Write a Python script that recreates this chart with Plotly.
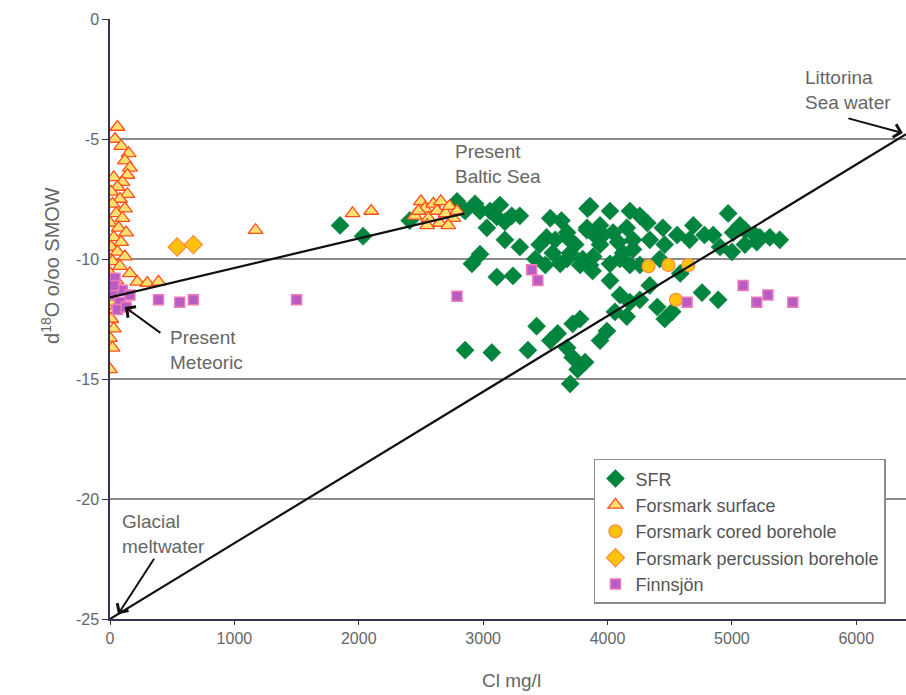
import plotly.graph_objects as go

# --- Data: Cl (mg/l) and d18O (o/oo SMOW) per sample group ---
sfr_cl = [1850, 2035, 2410, 2790, 2935, 2975, 3055, 3110, 3230, 3030, 3175, 3295, 2975, 2910,
          3110, 3240, 3420, 3540, 3630, 3510, 3675, 3840, 4020, 4180, 3835, 3915, 4045, 4155,
          3560, 3700, 3800, 3885, 4020, 4125, 4205, 3860, 4320, 4445, 4560, 4690, 4970, 4850,
          5010, 5105, 5225, 5305, 5385, 5200, 4905, 5000, 3675, 3835, 3965, 4085, 4205, 3675,
          3780, 4020, 4420, 4585, 4760, 4890, 4100, 4180, 4260, 4400, 4460, 4155, 3995, 3720,
          3780, 3940, 3675, 3720, 3820, 3700, 3360, 3430, 3070, 2855, 3540, 3455, 3580, 3940,
          4100, 4260, 4340, 4460, 3940, 4260, 3860, 3740, 4180, 3620, 3500, 4660, 4780, 5065,
          5185, 5105, 2855, 3135, 3175, 3295, 4340, 4520, 3600, 3880, 3760, 4060]
sfr_d18o = [-8.6, -9.05, -8.4, -7.6, -7.7, -8.0, -8.0, -8.25, -8.2, -8.7, -9.2, -9.5, -9.8, -10.2,
            -10.75, -10.7, -10.0, -8.3, -8.4, -9.1, -9.1, -7.9, -8.0, -8.0, -8.7, -9.1, -8.9, -8.7,
            -9.75, -9.75, -10.0, -9.9, -10.2, -9.75, -9.2, -7.8, -8.5, -8.7, -9.0, -8.6, -8.1, -9.0,
            -8.9, -8.8, -9.1, -9.1, -9.2, -9.3, -9.5, -9.7, -8.9, -8.8, -9.0, -9.3, -9.6, -10.0,
            -10.25, -10.9, -10.0, -10.6, -11.4, -11.7, -11.5, -11.8, -11.7, -12.0, -12.5, -12.4,
            -13.0, -12.7, -12.5, -13.4, -13.7, -14.1, -14.3, -15.2, -13.8, -12.8, -13.9, -13.8,
            -13.4, -9.4, -9.2, -9.4, -10.0, -10.25, -9.2, -9.4, -8.6, -8.2, -10.25, -9.4, -10.25,
            -10.2, -10.25, -9.2, -9.0, -8.6, -9.0, -9.4, -8.0, -7.75, -8.45, -8.2, -11.1, -12.2,
            -13.1, -10.5, -14.6, -12.2]

surf_cl = [60, 40, 90, 150, 120, 160, 140, 30, 100, 60, 10, 140, 80, 20, 120, 50, 100, 0, 70,
           130, 30, 90, 10, 60, 120, 20, 80, 0, 50, 20, 0, 40, 10, 30, 0, 20, 0,
           160, 220, 300, 390,
           1170, 1950, 2100,
           2450, 2500, 2530, 2560, 2600, 2630, 2660, 2700, 2730, 2760, 2790, 2550, 2650,
           2720, 2480]
surf_d18o = [-4.5, -5.0, -5.3, -5.6, -5.9, -6.2, -6.5, -6.6, -6.8, -7.0, -7.2, -7.3, -7.5, -7.7,
             -7.9, -8.1, -8.3, -8.5, -8.7, -8.9, -9.1, -9.3, -9.5, -9.7, -9.9, -10.1, -10.3,
             -10.6, -10.9, -11.3, -11.8, -12.1, -12.5, -12.9, -13.3, -13.7, -14.6,
             -10.6, -10.95, -11.0, -10.95,
             -8.8, -8.1, -8.0,
             -8.2, -7.6, -7.9, -8.3, -7.7, -8.0, -7.6, -8.1, -7.8, -8.3, -8.0, -8.6, -8.5,
             -8.6, -8.0]

cored_cl = [4330, 4490, 4650, 4550]
cored_d18o = [-10.3, -10.25, -10.25, -11.7]

perc_cl = [540, 670]
perc_d18o = [-9.5, -9.4]

finn_cl = [40, 100, 20, 80, 160, 60, 130, 30, 390, 560, 670, 1500, 2790, 3390, 3440, 4640,
           5090, 5200, 5290, 5490]
finn_d18o = [-10.8, -11.3, -11.5, -11.8, -11.5, -12.1, -12.0, -11.1, -11.7, -11.8, -11.7,
             -11.7, -11.55, -10.45, -10.9, -11.8, -11.1, -11.8, -11.5, -11.8]

# End members of the two mixing lines
mix_cl = [0, 6400]
mix_d18o = [-25.0, -4.8]
baltic_cl = [0, 2850]
baltic_d18o = [-11.6, -8.1]

grid_levels = [-5, -10, -15, -20]
x_ticks = [0, 1000, 2000, 3000, 4000, 5000, 6000]
y_ticks = [0, -5, -10, -15, -20, -25]
y_ticktext = ["0", "-5", "-10", "-15", "-20", "-25"]

FONT = "Liberation Sans, Arial, sans-serif"
TXT = "#666666"

fig = go.Figure()

fig.add_trace(go.Scatter(
    x=sfr_cl, y=sfr_d18o, mode="markers", name="SFR",
    marker=dict(symbol="diamond", size=14, color="#00853e",
                line=dict(color="#0a7a3a", width=0.5))))
fig.add_trace(go.Scatter(
    x=surf_cl, y=surf_d18o, mode="markers", name="Forsmark surface",
    marker=dict(symbol="triangle-up", size=13, color="#ffe070",
                line=dict(color="#ff4f1f", width=1.3))))
fig.add_trace(go.Scatter(
    x=cored_cl, y=cored_d18o, mode="markers", name="Forsmark cored borehole",
    marker=dict(symbol="circle", size=13, color="#ffc20e",
                line=dict(color="#ff8a3a", width=1.2))))
fig.add_trace(go.Scatter(
    x=perc_cl, y=perc_d18o, mode="markers", name="Forsmark percussion borehole",
    marker=dict(symbol="diamond", size=14, color="#ffc20e",
                line=dict(color="#ff8a3a", width=1.2))))
fig.add_trace(go.Scatter(
    x=finn_cl, y=finn_d18o, mode="markers", name="Finnsjön",
    marker=dict(symbol="square", size=10, color="#b85cc4",
                line=dict(color="#f07ab8", width=1.5))))

# Mixing lines drawn over the markers
fig.add_trace(go.Scatter(x=mix_cl, y=mix_d18o, mode="lines", showlegend=False,
                         line=dict(color="#111111", width=2.2), hoverinfo="skip"))
fig.add_trace(go.Scatter(x=baltic_cl, y=baltic_d18o, mode="lines", showlegend=False,
                         line=dict(color="#111111", width=2.2), hoverinfo="skip"))

shapes = [dict(type="line", xref="paper", x0=0, x1=1, yref="y", y0=g, y1=g,
               line=dict(color="#8c8c8c", width=2), layer="below") for g in grid_levels]

ann_font = dict(family=FONT, size=19, color=TXT)
annotations = [
    dict(x=5570, y=-1.9, text="Littorina<br>Sea water", showarrow=False,
         xanchor="left", yanchor="top", align="left", font=ann_font),
    dict(x=2760, y=-5.0, text="Present<br>Baltic Sea", showarrow=False,
         xanchor="left", yanchor="top", align="left", font=ann_font),
    dict(x=466, y=-12.75, text="Present<br>Meteoric", showarrow=False,
         xanchor="left", yanchor="top", align="left", font=ann_font),
    dict(x=80, y=-20.4, text="Glacial<br>meltwater", showarrow=False,
         xanchor="left", yanchor="top", align="left", font=ann_font),
    # arrows
    dict(x=6375, y=-4.75, ax=-56, ay=-15, text="", showarrow=True, arrowhead=4,
         arrowsize=1.3, arrowwidth=2, arrowcolor="#111111"),
    dict(x=120, y=-12.0, ax=37, ay=27, text="", showarrow=True, arrowhead=4,
         arrowsize=1.3, arrowwidth=2, arrowcolor="#111111"),
    dict(x=65, y=-24.8, ax=37, ay=-57, text="", showarrow=True, arrowhead=4,
         arrowsize=1.3, arrowwidth=2, arrowcolor="#111111"),
    # axis titles
    dict(xref="paper", yref="paper", x=-0.0754, y=0.59, xanchor="center", yanchor="middle",
         text="d<sup>18</sup>O o/oo SMOW", textangle=-90, showarrow=False,
         font=dict(family=FONT, size=20, color=TXT)),
    dict(xref="paper", yref="paper", x=0.505, y=-0.103, xanchor="center", yanchor="middle",
         text="Cl mg/l", showarrow=False, font=dict(family=FONT, size=19, color=TXT)),
]

fig.update_layout(
    width=906, height=695,
    margin=dict(l=110, r=0, t=19, b=76),
    paper_bgcolor="white", plot_bgcolor="white",
    font=dict(family=FONT, size=16, color=TXT),
    shapes=shapes, annotations=annotations,
    showlegend=True,
    legend=dict(x=0.608, y=0.267, xanchor="left", yanchor="top",
                bgcolor="white", bordercolor="#8c8c8c", borderwidth=1.5,
                font=dict(family=FONT, size=18, color="#555555"),
                tracegroupgap=0, itemwidth=30),
    xaxis=dict(range=[0, 6400], tickvals=x_ticks, showgrid=False, zeroline=False,
               showline=True, linecolor="#33334d", linewidth=1.5,
               ticks="outside", ticklen=4, tickcolor="#33334d",
               tickfont=dict(family=FONT, size=16, color=TXT)),
    yaxis=dict(range=[-25, 0], tickvals=y_ticks, ticktext=y_ticktext,
               showgrid=False, zeroline=False,
               showline=True, linecolor="#33334d", linewidth=1.5,
               ticks="outside", ticklen=6, tickcolor="#33334d",
               tickfont=dict(family=FONT, size=16, color=TXT)),
)

fig.write_html("out.html")
